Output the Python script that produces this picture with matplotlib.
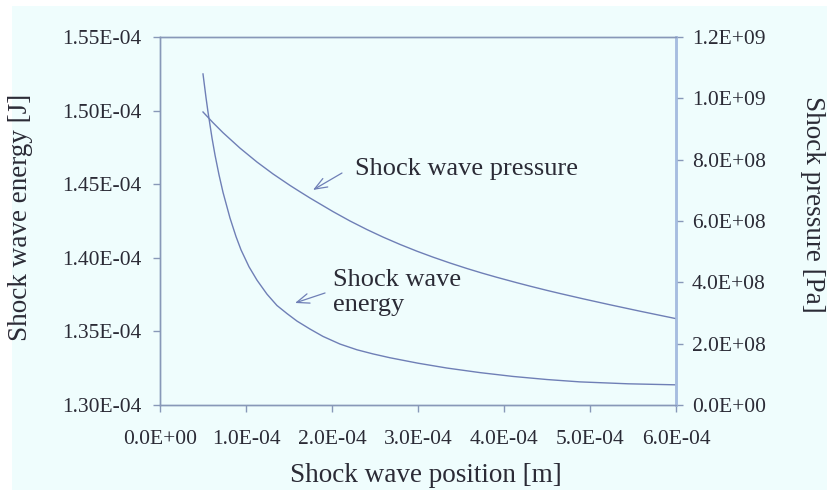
import matplotlib
matplotlib.use('Agg')
import matplotlib.pyplot as plt
from matplotlib.patches import Rectangle
from matplotlib.ticker import StrMethodFormatter, MultipleLocator

# ----------------------------------------------------------------------
#   Data
# ----------------------------------------------------------------------

# shock wave energy [J] vs position [m]
energy_x = [0.500e-4, 0.535e-4, 0.558e-4, 0.605e-4, 0.640e-4, 0.686e-4, 0.733e-4,
            0.814e-4, 0.884e-4, 0.942e-4, 1.035e-4, 1.128e-4, 1.244e-4, 1.360e-4,
            1.477e-4, 1.593e-4, 1.744e-4, 1.895e-4, 2.093e-4, 2.291e-4, 2.477e-4,
            2.674e-4, 3.000e-4, 3.337e-4, 3.721e-4, 4.105e-4, 4.500e-4, 4.884e-4,
            5.442e-4, 6.000e-4]
energy_y = [1.5249e-4, 1.5088e-4, 1.4991e-4, 1.4813e-4, 1.4697e-4, 1.4564e-4, 1.4444e-4,
            1.4270e-4, 1.4144e-4, 1.4054e-4, 1.3939e-4, 1.3848e-4, 1.3753e-4, 1.3676e-4,
            1.3621e-4, 1.3570e-4, 1.3516e-4, 1.3466e-4, 1.3414e-4, 1.3375e-4, 1.3347e-4,
            1.3321e-4, 1.3284e-4, 1.3251e-4, 1.3220e-4, 1.3194e-4, 1.3173e-4, 1.3157e-4,
            1.3144e-4, 1.3137e-4]

# shock wave pressure [Pa] vs position [m]
pressure_x = [0.500e-4, 0.616e-4, 0.733e-4, 0.930e-4, 1.128e-4, 1.314e-4, 1.512e-4,
              1.628e-4, 1.744e-4, 2.012e-4, 2.209e-4, 2.407e-4, 2.593e-4, 2.791e-4,
              2.988e-4, 3.174e-4, 3.372e-4, 3.570e-4, 3.744e-4, 3.919e-4, 4.151e-4,
              4.302e-4, 4.500e-4, 4.651e-4, 4.919e-4, 5.233e-4, 5.581e-4, 6.000e-4]
pressure_y = [9.555e8, 9.207e8, 8.879e8, 8.377e8, 7.922e8, 7.535e8, 7.159e8,
              6.953e8, 6.750e8, 6.306e8, 6.001e8, 5.720e8, 5.476e8, 5.236e8,
              5.015e8, 4.822e8, 4.630e8, 4.450e8, 4.302e8, 4.162e8, 3.986e8,
              3.876e8, 3.737e8, 3.636e8, 3.463e8, 3.268e8, 3.059e8, 2.816e8]

# ----------------------------------------------------------------------
#   Plot
# ----------------------------------------------------------------------

plt.rcParams['font.family'] = ['Liberation Serif', 'DejaVu Serif']
plt.rcParams['axes.unicode_minus'] = False

text_color  = '#2b2b36'
line_color  = '#6f7fb6'
axis_color  = '#8898b8'
right_color = '#a6bde0'
bg_color    = '#effdfd'

fig = plt.figure(figsize=(8.27, 4.90), dpi=100, facecolor='white')
fig.patches.append(Rectangle((12 / 827, 0), 1, 1 - 6 / 490, transform=fig.transFigure,
                             facecolor=bg_color, edgecolor='none', zorder=-10))

ax1 = fig.add_axes([160 / 827, 1 - 405 / 490, 516 / 827, 368 / 490])
ax1.set_facecolor(bg_color)
ax2 = ax1.twinx()

ax1.plot(energy_x, energy_y, '-', color=line_color, lw=1.0)
ax2.plot(pressure_x, pressure_y, '-', color=line_color, lw=1.0)

ax1.set_xlim(0, 6e-4)
ax1.set_ylim(1.30e-4, 1.55e-4)
ax2.set_ylim(0, 1.2e9)
ax1.xaxis.set_major_locator(MultipleLocator(1e-4))
ax1.yaxis.set_major_locator(MultipleLocator(0.05e-4))
ax2.yaxis.set_major_locator(MultipleLocator(2e8))
ax1.xaxis.set_major_formatter(StrMethodFormatter('{x:.1E}'))
ax1.yaxis.set_major_formatter(StrMethodFormatter('{x:.2E}'))
ax2.yaxis.set_major_formatter(StrMethodFormatter('{x:.1E}'))

tick_fontsize  = 15.5
label_fontsize = 19.5

for ax in (ax1, ax2):
    for side in ('left', 'bottom', 'top'):
        ax.spines[side].set_color(axis_color)
        ax.spines[side].set_linewidth(1.0)
    ax.spines['right'].set_color(right_color)
    ax.spines['right'].set_linewidth(1.8)
    ax.tick_params(direction='out', length=5, width=1.0, color=axis_color,
                   labelcolor=text_color, labelsize=tick_fontsize)
ax1.tick_params(axis='x', pad=13)
ax1.tick_params(axis='y', pad=8.5)
ax2.tick_params(axis='y', pad=6.5)

ax1.set_xlabel('Shock wave position [m]', fontsize=label_fontsize, color=text_color)
ax1.set_ylabel('Shock wave energy [J]', fontsize=label_fontsize, color=text_color)
ax2.set_ylabel('Shock pressure [Pa]', fontsize=label_fontsize, color=text_color, rotation=270)
ax1.xaxis.set_label_coords((426 - 160) / 516, -(463 - 405) / 368)
ax1.yaxis.set_label_coords(-(160 - 33) / 516, (405 - 217) / 368)
ax2.yaxis.set_label_coords((825 - 160) / 516, (405 - 204) / 368)

# annotations with open arrows
arrow = dict(arrowstyle='->,head_length=0.9,head_width=0.35', color=line_color, lw=0.9,
             shrinkA=0, shrinkB=0)
ax1.annotate('', xy=(1.779e-4, 1.4461e-4), xytext=(2.116e-4, 1.4576e-4), arrowprops=arrow)
ax1.text(2.267e-4, 1.4563e-4, 'Shock wave pressure', fontsize=19, color=text_color,
         ha='left', va='baseline')
ax1.annotate('', xy=(1.570e-4, 1.3693e-4), xytext=(1.919e-4, 1.3761e-4), arrowprops=arrow)
ax1.text(2.012e-4, 1.3924e-4, 'Shock wave\nenergy', fontsize=19, color=text_color,
         ha='left', va='top', linespacing=1.2)

fig.savefig('out.png', dpi=100, facecolor=fig.get_facecolor())
